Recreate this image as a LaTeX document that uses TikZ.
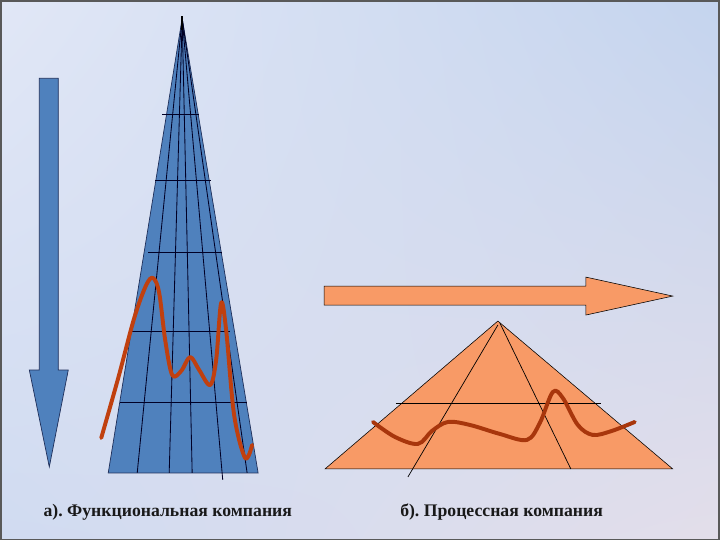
\documentclass[tikz,border=0pt]{standalone}
\usepackage{fontspec}
\setmainfont{Liberation Serif}
\newfontfamily\capfont{Liberation Serif}
\usetikzlibrary{positioning,calc,shadings}
\definecolor{bgtl}{HTML}{E1E7F6}
\definecolor{bgtr}{HTML}{C4D4EE}
\definecolor{bgbl}{HTML}{D0DBF1}
\definecolor{bgbr}{HTML}{E3DEEA}
\definecolor{steel}{HTML}{4F81BD}
\definecolor{navyline}{HTML}{1F2F5A}
\definecolor{salmon}{HTML}{F89A66}
\definecolor{rust}{HTML}{C0400F}
\definecolor{darkrust}{HTML}{A8360C}

\begin{document}
\frenchspacing
\begin{tikzpicture}[x=0.025cm, y=-0.025cm,
    bluefill/.style={fill=steel, draw=navyline, line width=0.5pt},
    salmonfill/.style={fill=salmon, draw=black, line width=0.4pt},
    gridline/.style={draw=black!85!blue, line width=0.6pt},
    wave/.style={line width=2.8pt, line cap=round, line join=round},
    caption/.style={font=\capfont\bfseries\fontsize{12.6}{15}\selectfont, text=black!90}]

    % Background and frame
    \shade[upper left=bgtl, upper right=bgtr, lower left=bgbl, lower right=bgbr]
        (0,0) rectangle (720,540);
    \draw[black!65, line width=1.2pt] (0.5,0.5) rectangle (719.5,539.5);
    \useasboundingbox (0,0) rectangle (720,540);

    % Downward arrow (a)
    \draw[bluefill] (39,78) -- (58,78) -- (58,370) -- (68,370) -- (49,467)
        -- (29,370) -- (39,370) -- cycle;

    % Tall pyramid (a)
    \coordinate (apexA) at (182,18);
    \draw[bluefill] (apexA) -- (258,473) -- (108,473) -- cycle;
    \foreach \bx/\by in {137/473, 169/473, 192/473, 222.6/480, 247/473} {
        \draw[gridline] (apexA) -- (\bx,\by);
    }
    \foreach \y/\l/\r in {114/162/199, 180/155/211, 252/148/222, 331/130/230, 402/120/247} {
        \draw[gridline] (\l,\y) -- (\r,\y);
    }
    \draw[black, line width=1.2pt] (182,16) -- (182,30);

    % Wave over pyramid (a)
    \draw[rust, wave] plot[smooth, tension=0.55] coordinates {
        (101,438) (118,378) (134,318) (146,285) (153,278) (159,293)
        (165,340) (172,375) (181,371) (190,357) (199,370) (210,385)
        (216,360) (221,303) (226,330) (234,415) (245,458) (252,445)};

    % Rightward arrow (b)
    \draw[salmonfill] (324,286) -- (586,286) -- (586,277) -- (673,296)
        -- (586,315) -- (586,305) -- (324,305) -- cycle;

    % Flat pyramid (b)
    \coordinate (apexB) at (498,321);
    \draw[salmonfill] (apexB) -- (673,469) -- (325,469) -- cycle;
    \draw[black, line width=0.5pt] (498,325) -- (408,477);
    \draw[black, line width=0.5pt] (500,323) -- (571,469);
    \draw[black, line width=0.5pt] (396,403) -- (601,403);

    % Wave over pyramid (b)
    \draw[darkrust, wave] plot[smooth, tension=0.55] coordinates {
        (373,422) (395,437) (418,444) (432,431) (448,422) (470,425)
        (500,434) (527,440) (540,423) (553,392) (563,398) (578,425)
        (593,435) (612,431) (635,422)};

    % Captions
    \node[caption, anchor=west, inner xsep=0pt] (capA) at (43,512) {а). Функциональная компания};
    \node[caption, anchor=west, inner xsep=0pt] (capB) at (400,512) {б). Процессная компания};
\end{tikzpicture}
\end{document}
